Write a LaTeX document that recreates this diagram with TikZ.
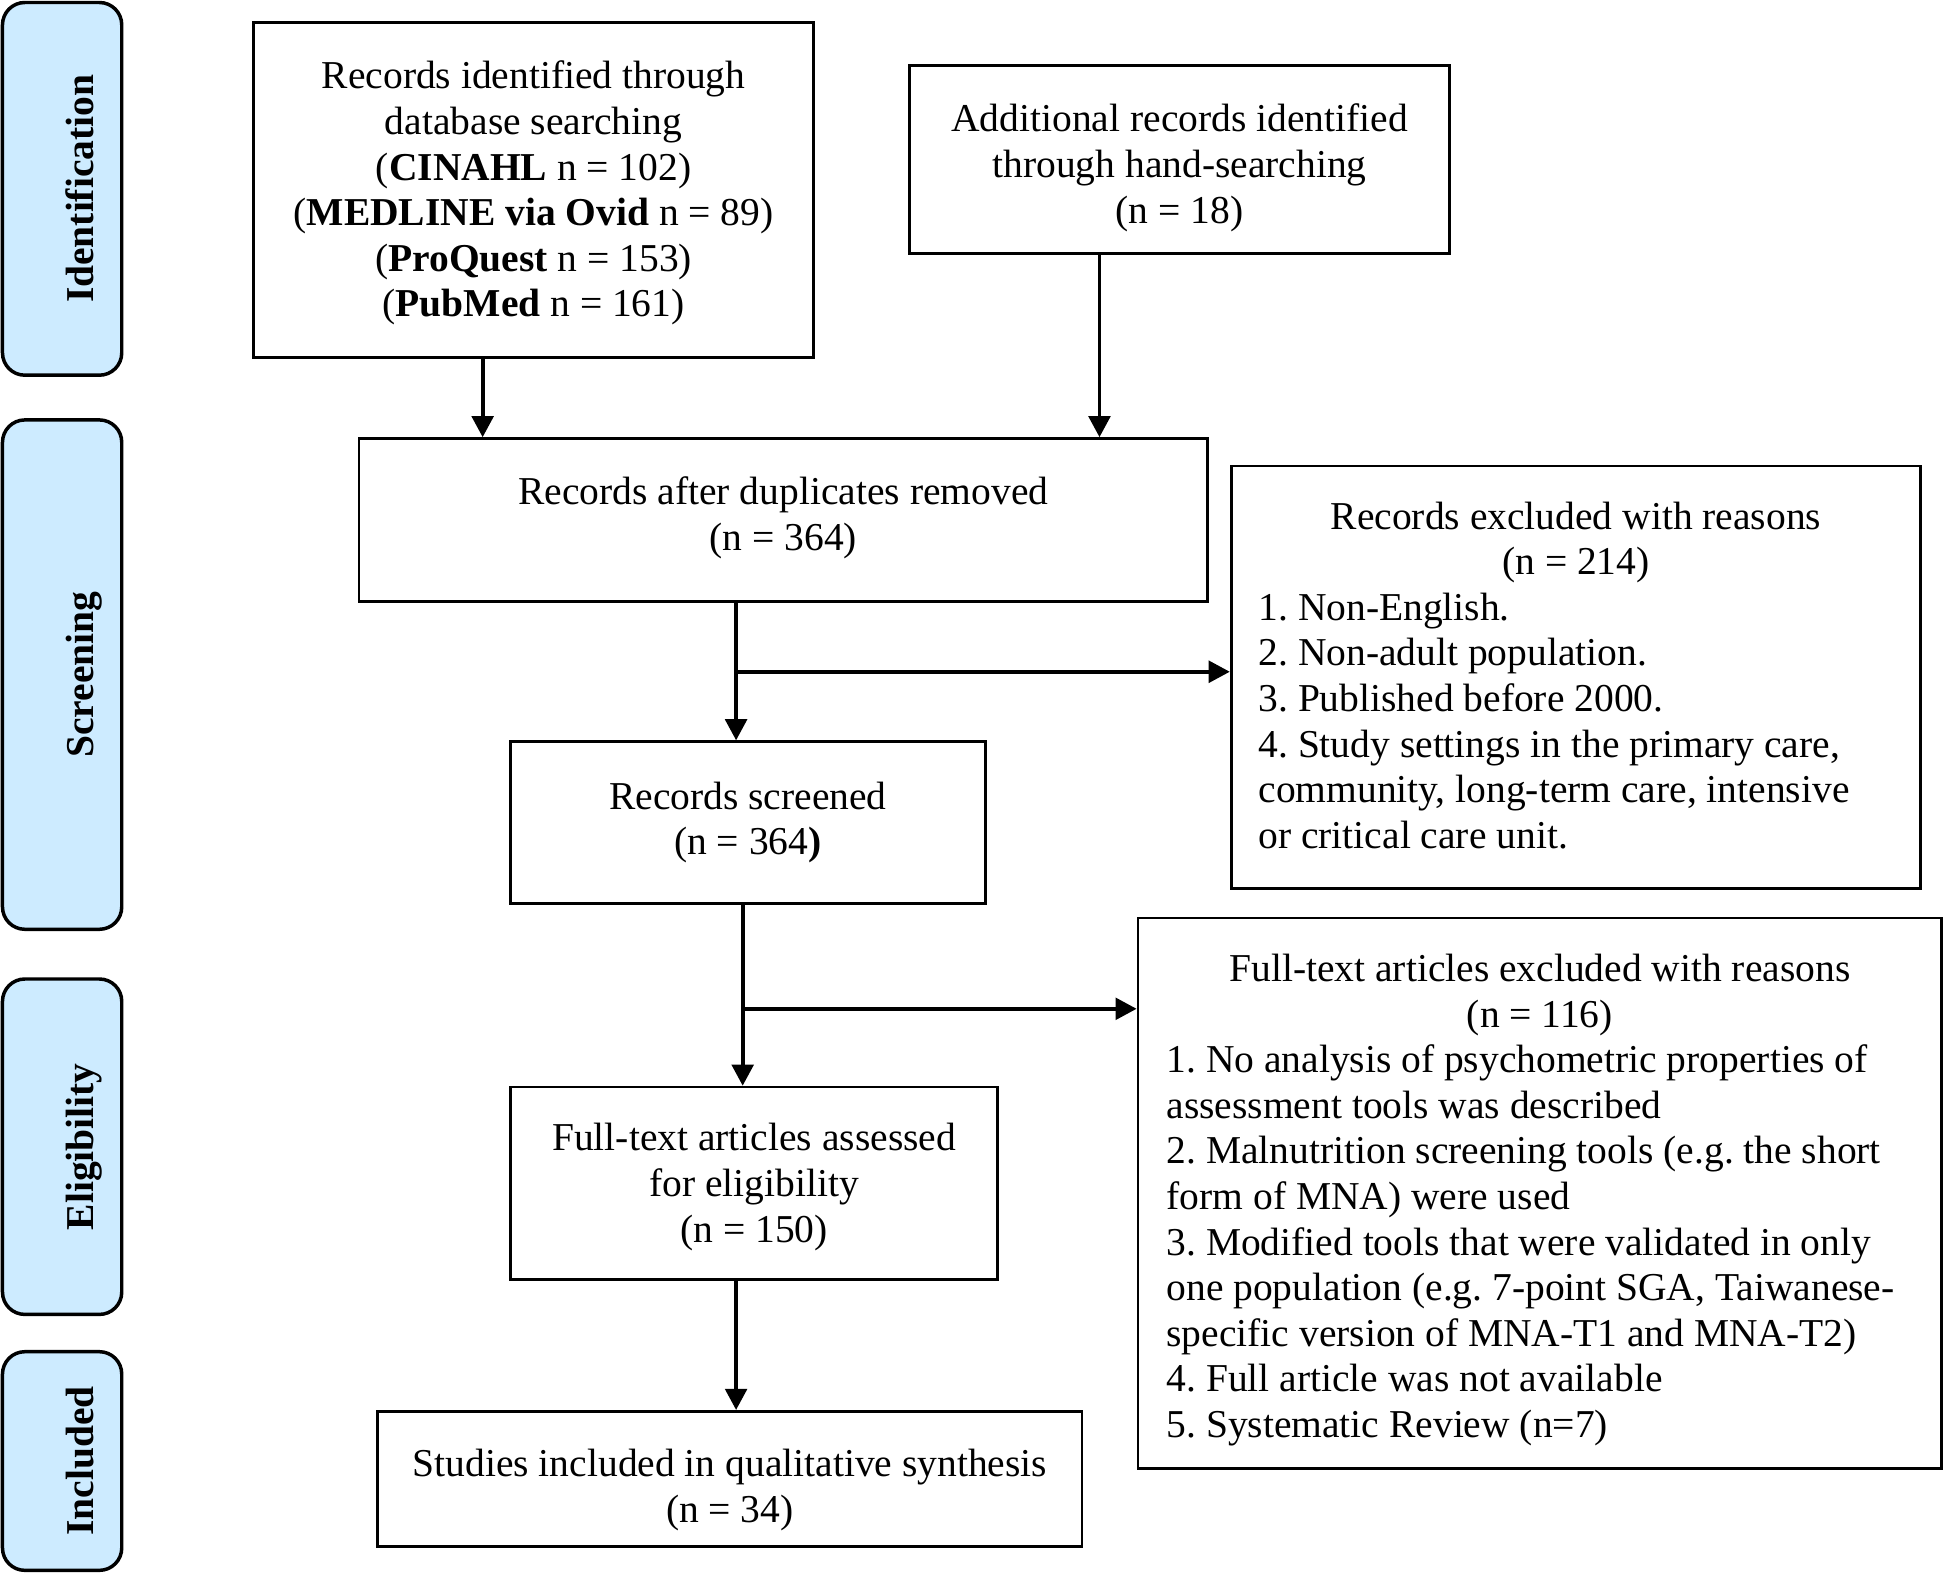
\documentclass[tikz,border=0pt]{standalone}
\usepackage{fontspec}
\setmainfont{Liberation Serif}
\usetikzlibrary{arrows.meta}
\definecolor{sidefill}{RGB}{205,235,255}
\begin{document}
\frenchspacing
\begin{tikzpicture}[x=0.5pt,y=-0.5pt,
  box/.style={draw=black, line width=1.1pt, fill=white, inner sep=0pt},
  txt/.style={inner sep=0pt, align=center, font=\fontsize{15.9}{18.35}\selectfont},
  side/.style={draw=black, line width=1.4pt, fill=sidefill, rounded corners=9pt,
    minimum width=48pt, inner sep=0pt},
  sidelab/.style={rotate=90, anchor=base, inner sep=0pt,
    font=\fontsize{15.9}{18.35}\selectfont\bfseries},
  arr/.style={line width=1.5pt, -{Triangle[length=8.5pt,width=8.7pt]}}]
\useasboundingbox[fill=white] (0,0) rectangle (1568,1266);

% stage boxes
\node[side, minimum height=150pt] (sid) at (50,152) {};
\node[sidelab] (lid) at (75,152) {Identification};
\node[side, minimum height=205pt] (ssc) at (50,543) {};
\node[sidelab] (lsc) at (75,543) {Screening};
\node[side, minimum height=135pt] (sel) at (50,923) {};
\node[sidelab] (lel) at (75,923) {Eligibility};
\node[side, minimum height=88pt] (sin) at (50,1176) {};
\node[sidelab] (lin) at (75,1176) {Included};

% flow boxes
\node[box, minimum width=225.5pt, minimum height=135pt] (A) at (429.5,153) {};
\node[txt, yshift=-1.25pt] (At) at (A)
  {Records identified through\\database searching\\(\textbf{CINAHL} n = 102)\\(\textbf{MEDLINE via Ovid} n = 89)\\(\textbf{ProQuest} n = 153)\\(\textbf{PubMed} n = 161)};
\node[box, minimum width=217.5pt, minimum height=75.5pt] (B) at (949.5,128.5) {};
\node[txt, yshift=-3.25pt] (Bt) at (B)
  {Additional records identified\\through hand-searching\\(n = 18)};
\node[box, minimum width=341.5pt, minimum height=65.5pt] (C) at (630.5,418.5) {};
\node[txt, yshift=0.75pt] (Ct) at (C)
  {Records after duplicates removed\\(n = 364)};
\node[box, minimum width=277.5pt, minimum height=170pt] (D) at (1268.5,545) {};
\node[txt, yshift=0.75pt] (Dt) at (D)
  {\parbox{255.5pt}{\centering Records excluded with reasons\\(n = 214)\par
   \raggedright 1. Non-English.\\2. Non-adult population.\\3. Published before 2000.\\4. Study settings in the primary care,\\community, long-term care, intensive\\or critical care unit.\par}};
\node[box, minimum width=191pt, minimum height=65pt] (E) at (602,662) {};
\node[txt] (Et) at (E)
  {Records screened\\(n = 364\textbf{)}};
\node[box, minimum width=323.5pt, minimum height=221.5pt] (F) at (1239.5,960.5) {};
\node[txt, yshift=-2.75pt] (Ft) at (F)
  {\parbox{300.5pt}{\centering Full-text articles excluded with reasons\\(n = 116)\par
   \raggedright 1. No analysis of psychometric properties of\\assessment tools was described\\2. Malnutrition screening tools (e.g. the short\\form of MNA) were used\\3. Modified tools that were validated in only\\one population (e.g. 7-point SGA, Taiwanese-\\specific version of MNA-T1 and MNA-T2)\\4. Full article was not available\\5. Systematic Review (n=7)\par}};
\node[box, minimum width=196pt, minimum height=77.5pt] (G) at (607,952.5) {};
\node[txt, yshift=-1.5pt] (Gt) at (G)
  {Full-text articles assessed\\for eligibility\\(n = 150)};
\node[box, minimum width=283.5pt, minimum height=54.5pt] (H) at (587.5,1190.5) {};
\node[txt, yshift=-4.5pt] (Ht) at (H)
  {Studies included in qualitative synthesis\\(n = 34)};

% connectors
\coordinate (xa) at (388.5,0);
\coordinate (xb) at (885,0);
\coordinate (xc) at (592.5,0);
\coordinate (xe) at (597.8,0);
\coordinate (xg) at (592.5,0);
\coordinate (j1) at (592.5,540.7);
\coordinate (j2) at (597.8,812);
\draw[arr] (A.south -| xa) -- (C.north -| xa);
\draw[arr] (B.south -| xb) -- (C.north -| xb);
\draw[arr] (C.south -| xc) -- (E.north -| xc);
\draw[arr] (j1) -- (j1 -| D.west);
\draw[arr] (E.south -| xe) -- (G.north -| xe);
\draw[arr] (j2) -- (j2 -| F.west);
\draw[arr] (G.south -| xg) -- (H.north -| xg);
\end{tikzpicture}
\end{document}
